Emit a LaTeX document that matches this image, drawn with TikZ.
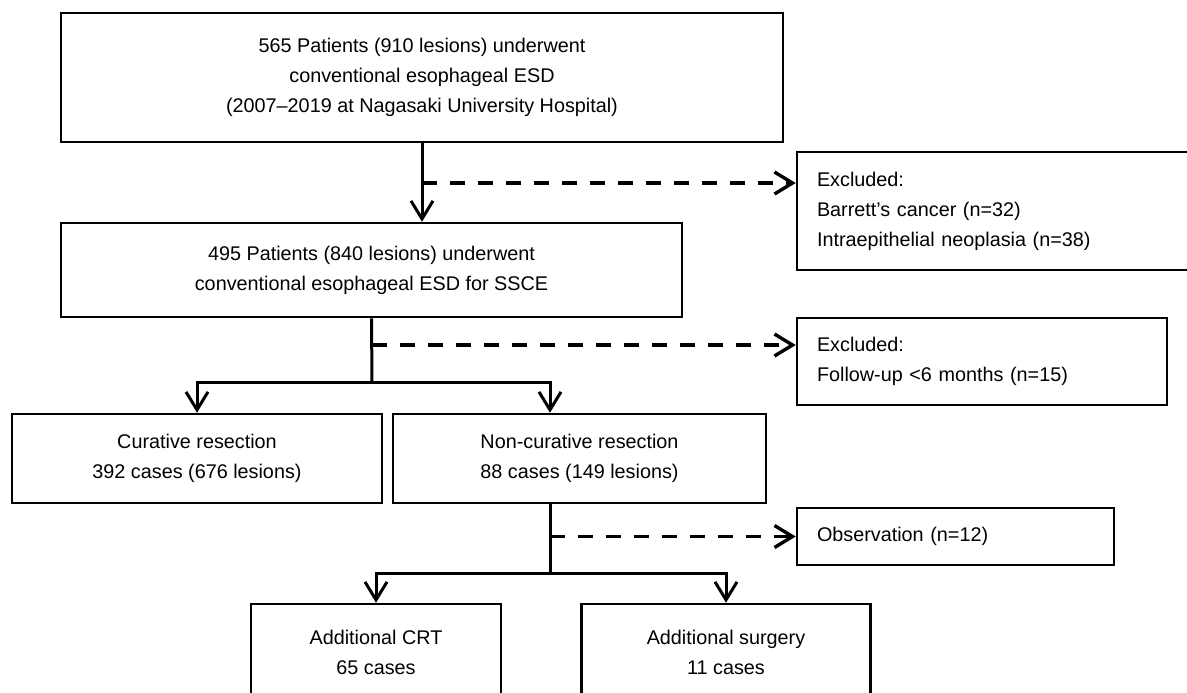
\documentclass[tikz,border=0pt]{standalone}
\usepackage{fontspec}
\setmainfont{Liberation Sans}
\usetikzlibrary{arrows.meta}
\tikzset{
  box/.style={draw, line width=1.25pt, inner sep=0pt, align=center},
  sidebox/.style={draw, line width=1.25pt, inner xsep=10pt, inner ysep=0pt, align=left},
  flow/.style={line width=1.5pt, -{Straight Barb[length=9pt,width=11pt]}},
  trunk/.style={line width=1.5pt},
  drop/.style={line width=1.7pt, dash pattern=on 7.5pt off 6.5pt, -{Straight Barb[length=9pt,width=11pt]}}
}
\begin{document}
\begin{tikzpicture}[x=0.5pt,y=-0.5pt,font=\fontsize{9.9}{15}\selectfont]
\useasboundingbox (0,0) rectangle (1187,692);
% boxes
\node[box, minimum width=361pt, minimum height=64.5pt] (all) at (422,77.5)
  {565 Patients (910 lesions) underwent\\conventional esophageal ESD\\(2007–2019 at Nagasaki University Hospital)};
\node[sidebox, minimum height=59pt, text width=176.5pt] (ex1) at (993.5,211)
  {Excluded:\\Barrett’s cancer (n=32)\\Intraepithelial neoplasia (n=38)};
\node[box, minimum width=310.5pt, minimum height=47pt] (ssce) at (371.5,270)
  {495 Patients (840 lesions) underwent\\conventional esophageal ESD for SSCE};
\node[sidebox, minimum height=43.5pt, text width=165pt] (ex2) at (982,361.5)
  {Excluded:\\Follow-up <6 months (n=15)};
\node[box, minimum width=185pt, minimum height=44.5pt] (cur) at (197,458.5)
  {Curative resection\\392 cases (676 lesions)};
\node[box, minimum width=186.5pt, minimum height=44.5pt] (ncur) at (579.5,458.5)
  {Non-curative resection\\88 cases (149 lesions)};
\node[sidebox, minimum height=28.5pt, text width=138.5pt] (obs) at (955.5,536.5)
  {Observation (n=12)};
\node[box, minimum width=125pt, minimum height=48pt] (crt) at (376,652)
  {Additional CRT\\65 cases};
\node[box, minimum width=144.5pt, minimum height=48pt] (surg) at (726,652)
  {Additional surgery\\11 cases};
% junctions
\coordinate (d1) at (422,183);
\coordinate (d2) at (372,345);
\coordinate (j1) at (372,382);
\coordinate (j2) at (550,573);
% connectors
\draw[flow] (all.south) -- (all.south |- ssce.north);
\draw[drop] (d1) -- (d1 -| ex1.west);
\draw[trunk] (ssce.south) -- (j1);
\draw[drop] (d2) -- (d2 -| ex2.west);
\draw[flow] (j1) -| (cur.north);
\draw[flow] (j1) -| (j2 |- ncur.north);
\draw[trunk] (j2 |- ncur.south) -- (j2);
\draw[drop] (obs.west -| j2) -- (obs.west);
\draw[flow] (j2) -| (crt.north);
\draw[flow] (j2) -| (surg.north);
\end{tikzpicture}
\end{document}
